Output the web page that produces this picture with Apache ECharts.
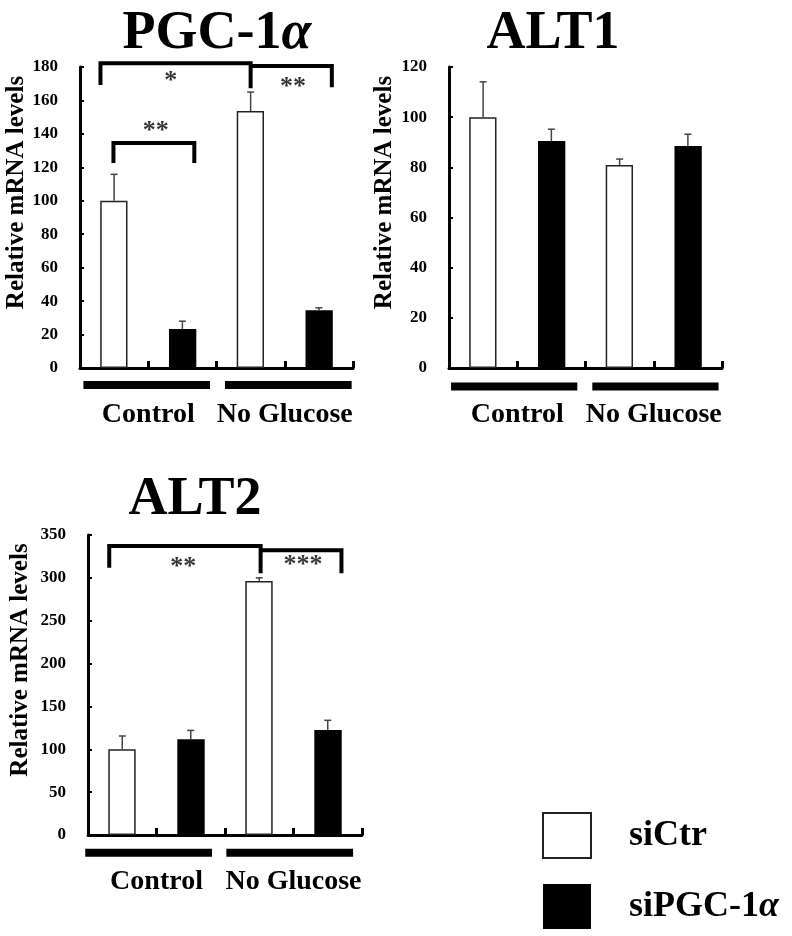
<!DOCTYPE html>
<html>
<head>
<meta charset="utf-8">
<script src="https://cdn.jsdelivr.net/npm/echarts@6/dist/echarts.min.js"></script>
<style>
html,body{margin:0;padding:0;background:#fff;}
#chart{width:792px;height:936px;}
</style>
</head>
<body>
<div id="chart"></div>
<script>
const SERIF = '"Liberation Serif", "Times New Roman", serif';

const categories = ['Control', 'No Glucose'];
const seriesNames = ['siCtr', 'siPGC-1α'];

// PGC-1α panel
const pgcTitle = 'PGC-1α';
const pgcYAxis = [0, 180, 20];
const pgcCtr = [100, 153.7];
const pgcCtrErr = [15.8, 11.3];
const pgcKd = [23.3, 34.6];
const pgcKdErr = [4.7, 1.4];
const pgcBrackets = [
  [[0.30, 169.3], [0.30, 182.2], [2.50, 182.2], [2.50, 167.3]],
  [[2.50, 180.6], [3.69, 180.6], [3.69, 167.9]],
  [[0.49, 122.6], [0.49, 134.6], [1.675, 134.6], [1.675, 122.6]]
];
const pgcStars = [['*', 1.33, 174.2], ['**', 3.12, 170.9], ['**', 1.11, 144.7]];
const pgcGroupBars = [[0.05, 1.905, -10.2], [2.125, 3.98, -10.2]];

// ALT1 panel
const alt1Title = 'ALT1';
const alt1YAxis = [0, 120, 20];
const alt1Ctr = [100, 80.9];
const alt1CtrErr = [14.1, 2.4];
const alt1Kd = [90.5, 88.5];
const alt1KdErr = [4.7, 4.7];
const alt1Brackets = [];
const alt1Stars = [];
const alt1GroupBars = [[0.03, 1.88, -7.4], [2.10, 3.95, -7.4]];

// ALT2 panel
const alt2Title = 'ALT2';
const alt2YAxis = [0, 350, 50];
const alt2Ctr = [100, 296.3];
const alt2CtrErr = [15.5, 3.7];
const alt2Kd = [111.6, 122.5];
const alt2KdErr = [10.4, 11.3];
const alt2Brackets = [
  [[0.31, 311.8], [0.31, 337.2], [2.52, 337.2], [2.52, 305.5]],
  [[2.52, 332.3], [3.70, 332.3], [3.70, 305.5]]
];
const alt2Stars = [['**', 1.39, 318.7], ['***', 3.14, 320.8]];
const alt2GroupBars = [[-0.04, 1.81, -20.6], [2.02, 3.87, -20.6]];

const panels = [
  {title: pgcTitle, titleX: 217, titleTop: 7, grid: {left: 80, top: 67, width: 273, height: 301},
   y: pgcYAxis, ctr: pgcCtr, ctrErr: pgcCtrErr, kd: pgcKd, kdErr: pgcKdErr,
   brackets: pgcBrackets, stars: pgcStars, groupBars: pgcGroupBars, nameGap: 50},
  {title: alt1Title, titleX: 553, titleTop: 7, grid: {left: 449, top: 67, width: 273, height: 301},
   y: alt1YAxis, ctr: alt1Ctr, ctrErr: alt1CtrErr, kd: alt1Kd, kdErr: alt1KdErr,
   brackets: alt1Brackets, stars: alt1Stars, groupBars: alt1GroupBars, nameGap: 52},
  {title: alt2Title, titleX: 195, titleTop: 473, grid: {left: 88, top: 535, width: 274, height: 300},
   y: alt2YAxis, ctr: alt2Ctr, ctrErr: alt2CtrErr, kd: alt2Kd, kdErr: alt2KdErr,
   brackets: alt2Brackets, stars: alt2Stars, groupBars: alt2GroupBars, nameGap: 55}
];

const titles = [], grids = [], xAxes = [], yAxes = [], series = [];

function errRender(side) {
  return function (params, api) {
    const bw = api.size([1, 0])[0];
    const base = api.coord([api.value(0), api.value(1)]);
    const top = api.coord([api.value(0), api.value(2)]);
    const x = base[0] + side * bw / 4;
    const st = {stroke: '#444', lineWidth: 1.5};
    return {type: 'group', children: [
      {type: 'line', shape: {x1: x, y1: base[1], x2: x, y2: top[1]}, style: st},
      {type: 'line', shape: {x1: x - 3.5, y1: top[1], x2: x + 3.5, y2: top[1]}, style: st}
    ]};
  };
}

panels.forEach((p, g) => {
  const alpha = p.title.indexOf('α') >= 0;
  titles.push({
    text: alpha ? p.title.replace('α', '{a|α}') : p.title,
    left: p.titleX, top: p.titleTop, textAlign: 'center', padding: 0,
    textStyle: {fontFamily: SERIF, fontSize: 54, fontWeight: 'bold', color: '#000',
      rich: {a: {fontFamily: SERIF, fontSize: 54, fontWeight: 'bold', fontStyle: 'italic', color: '#000'}}}
  });
  grids.push(p.grid);
  xAxes.push({type: 'category', gridIndex: g, data: categories,
    axisLine: {lineStyle: {color: '#000', width: 3}}, axisTick: {show: false},
    axisLabel: {interval: 0, margin: 33, fontSize: 28, fontWeight: 'bold', fontFamily: SERIF, color: '#000'}});
  xAxes.push({type: 'value', gridIndex: g, min: 0, max: 4, interval: 1, position: 'bottom',
    axisLine: {show: false}, axisTick: {show: true, inside: true, length: 7, lineStyle: {color: '#000', width: 3}},
    axisLabel: {show: false}, splitLine: {show: false}});
  yAxes.push({type: 'value', gridIndex: g, min: p.y[0], max: p.y[1], interval: p.y[2],
    name: 'Relative mRNA levels', nameLocation: 'middle', nameGap: p.nameGap, nameRotate: 90,
    nameTextStyle: {fontFamily: SERIF, fontSize: 25, fontWeight: 'bold', color: '#000', padding: [0, 0, 0, 50]},
    axisLine: {show: true, lineStyle: {color: '#000', width: 3}},
    axisTick: {show: true, inside: true, length: 4, lineStyle: {color: '#000', width: 2}},
    axisLabel: {margin: 22, fontSize: 17, fontWeight: 'bold', fontFamily: SERIF, color: '#000'},
    splitLine: {show: false}});
  const cx = g * 2, vx = g * 2 + 1;
  series.push({type: 'bar', name: seriesNames[0], xAxisIndex: cx, yAxisIndex: g, data: p.ctr,
    barWidth: '20%', barGap: '152%', itemStyle: {color: '#fff', borderColor: '#222', borderWidth: 1.5}});
  series.push({type: 'bar', name: seriesNames[1], xAxisIndex: cx, yAxisIndex: g, data: p.kd,
    barWidth: '20%', barGap: '152%', itemStyle: {color: '#000', borderColor: '#000', borderWidth: 0}});
  [[p.ctr, p.ctrErr, -1], [p.kd, p.kdErr, 1]].forEach(([v, e, side]) => {
    series.push({type: 'custom', xAxisIndex: cx, yAxisIndex: g, z: 5, silent: true,
      data: v.map((val, i) => [i, val, val + e[i]]), renderItem: errRender(side)});
  });
  p.brackets.forEach(b => series.push({type: 'line', xAxisIndex: vx, yAxisIndex: g, data: b,
    symbol: 'none', clip: false, silent: true, z: 6,
    lineStyle: {color: '#000', width: 4, join: 'miter', cap: 'butt'}}));
  p.groupBars.forEach(s => series.push({type: 'line', xAxisIndex: vx, yAxisIndex: g,
    data: [[s[0], s[2]], [s[1], s[2]]], symbol: 'none', clip: false, silent: true, z: 6,
    lineStyle: {color: '#000', width: 8, cap: 'butt'}}));
  if (p.stars.length) series.push({type: 'scatter', xAxisIndex: vx, yAxisIndex: g, clip: false, silent: true,
    symbolSize: 1, itemStyle: {color: 'rgba(0,0,0,0)'},
    data: p.stars.map(s => ({name: s[0], value: [s[1], s[2]]})),
    label: {show: true, position: 'inside', formatter: '{b}', fontFamily: SERIF, fontSize: 26,
      fontWeight: 'bold', color: '#000', textBorderWidth: 0, offset: [0, 5]}});
});

const chart = echarts.init(document.getElementById('chart'), null, {renderer: 'canvas'});
chart.setOption({
  animation: false,
  backgroundColor: '#fff',
  title: titles,
  grid: grids,
  xAxis: xAxes,
  yAxis: yAxes,
  legend: {
    data: seriesNames, orient: 'vertical', left: 542, top: 812, padding: 0,
    itemWidth: 48, itemHeight: 45, itemGap: 25, icon: 'rect',
    formatter: n => n.indexOf('α') >= 0 ? '{t|' + n.replace('α', '') + '}{a|α}' : '{t|' + n + '}',
    textStyle: {rich: {
      t: {fontFamily: SERIF, fontSize: 36, fontWeight: 'bold', color: '#000', padding: [0, 0, 0, 33]},
      a: {fontFamily: SERIF, fontSize: 36, fontWeight: 'bold', fontStyle: 'italic', color: '#000'}
    }}
  },
  series: series
});
</script>
</body>
</html>
